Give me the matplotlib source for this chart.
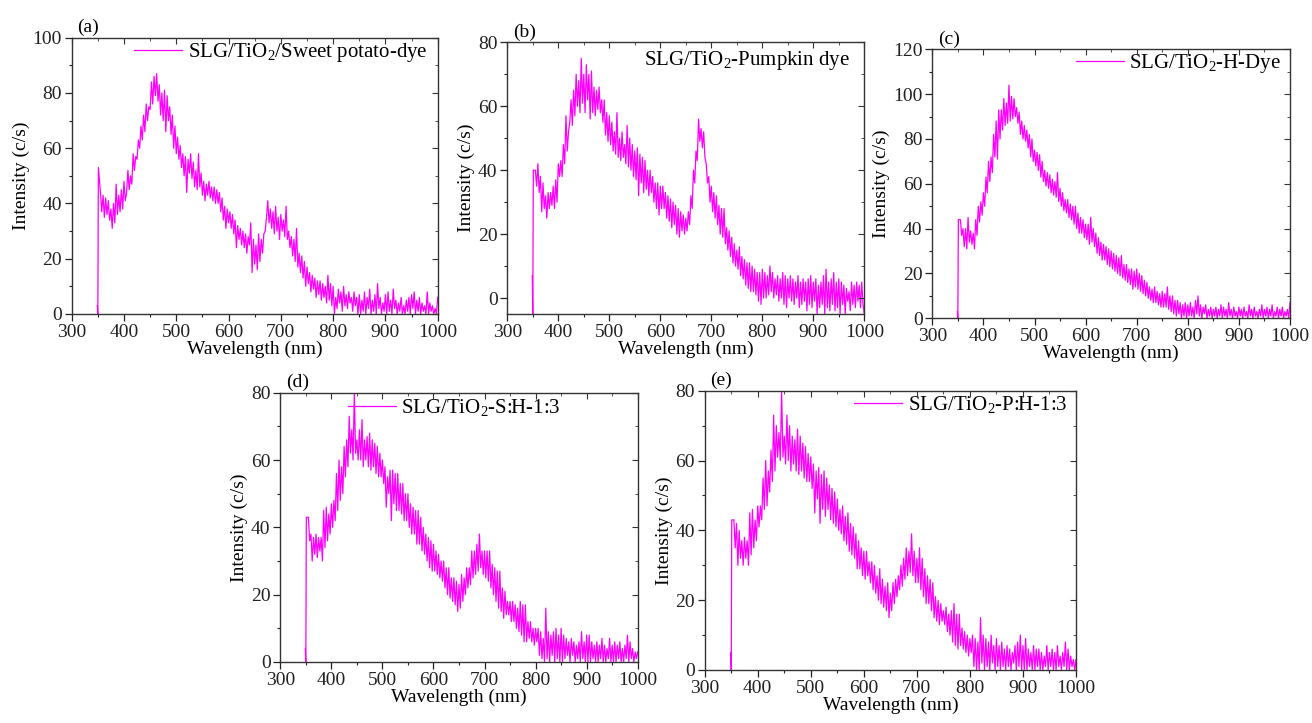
import numpy as np
import matplotlib
matplotlib.use("Agg")
import matplotlib.pyplot as plt
from matplotlib.ticker import MultipleLocator, NullFormatter

plt.rcParams['font.family'] = ['Liberation Serif', 'DejaVu Serif']
plt.rcParams['mathtext.fontset'] = 'custom'
plt.rcParams['mathtext.rm'] = 'Liberation Serif'
plt.rcParams['mathtext.it'] = 'Liberation Serif:italic'

# wavelength grid (nm): short lead-in before the jump, then 2.5 nm steps
wl_start = [349, 350, 351]
wl = list(np.arange(355, 1000.1, 2.5))

# (a) SLG/TiO2/Sweet potato-dye
a_start = [3, 0, 53]
a_vals = [44, 37, 43, 35, 42, 36, 41, 34, 38, 31, 40, 33, 47, 36, 43, 37, 45, 38, 48, 41,
          44, 52, 45, 50, 47, 58, 52, 57, 56, 63, 60, 68, 63, 72, 66, 76, 70, 75, 74, 84,
          76, 86, 79, 87, 77, 83, 72, 80, 70, 81, 66, 79, 70, 75, 65, 72, 60, 68, 58, 64,
          56, 61, 53, 58, 50, 57, 44, 56, 51, 58, 49, 55, 46, 52, 45, 58, 46, 51, 43, 48,
          41, 47, 43, 48, 42, 46, 41, 46, 40, 45, 40, 44, 37, 42, 34, 39, 31, 38, 33, 37,
          31, 36, 29, 34, 24, 32, 27, 31, 25, 30, 24, 29, 22, 28, 25, 33, 15, 27, 18, 25,
          16, 29, 19, 27, 22, 29, 30, 35, 41, 33, 38, 31, 37, 29, 39, 30, 35, 27, 36, 30,
          34, 28, 39, 27, 30, 24, 28, 21, 27, 19, 31, 17, 22, 15, 21, 13, 19, 10, 17, 11,
          15, 8, 14, 9, 13, 6, 12, 7, 12, 5, 11, 6, 10, 4, 14, 5, 11, 3, 10, 0,
          6, 2, 9, 4, 8, 1, 10, 3, 7, 2, 8, 4, 6, 1, 8, 3, 6, 0, 7, 0,
          5, 1, 8, 0, 6, 2, 9, 0, 5, 1, 7, 0, 11, 2, 6, 0, 4, 1, 7, 0,
          8, 1, 5, 0, 9, 2, 5, 0, 4, 1, 6, 0, 3, 0, 5, 1, 6, 0, 7, 2,
          8, 0, 5, 1, 6, 0, 4, 1, 3, 0, 8, 0, 4, 1, 3, 0, 2, 0, 6]

# (b) SLG/TiO2-Pumpkin dye
b_start = [7, -5, 40]
b_vals = [40, 35, 42, 33, 38, 27, 36, 28, 32, 25, 33, 28, 33, 29, 35, 28, 37, 30, 42, 38,
          43, 38, 48, 42, 57, 46, 52, 55, 62, 54, 65, 57, 70, 60, 68, 58, 75, 61, 70, 58,
          73, 62, 70, 56, 71, 58, 66, 57, 65, 59, 66, 58, 62, 55, 62, 51, 58, 49, 57, 48,
          55, 46, 52, 45, 58, 44, 50, 43, 52, 44, 48, 42, 54, 41, 50, 40, 48, 38, 46, 37,
          47, 32, 45, 36, 44, 33, 43, 34, 40, 32, 40, 33, 38, 30, 36, 28, 36, 26, 35, 28,
          35, 28, 33, 25, 32, 24, 31, 22, 30, 23, 29, 20, 28, 19, 27, 21, 26, 20, 25, 21,
          27, 23, 32, 28, 40, 36, 46, 43, 56, 49, 53, 47, 52, 44, 42, 36, 38, 30, 35, 27,
          33, 25, 32, 23, 29, 20, 28, 19, 28, 17, 22, 15, 21, 13, 19, 11, 17, 10, 15, 9,
          16, 7, 13, 6, 12, 4, 11, 3, 11, 2, 10, 2, 9, 1, 8, -1, 8, -2, 9, 0,
          8, 0, 7, 1, 10, 2, 8, 0, 6, 1, 7, -1, 6, 0, 8, -2, 7, -3, 6, 0,
          7, -1, 6, -2, 5, 0, 7, -3, 5, -2, 6, -1, 5, -4, 6, -2, 7, -3, 5, -1,
          6, -5, 4, -3, 5, -2, 7, -5, 9, -3, 5, -4, 6, -2, 8, -4, 5, -3, 6, -5,
          5, -2, 4, -5, 3, -1, 2, -4, 5, -2, 4, -3, 5, -1, 4, -3, 5, -2, -5]

# (c) SLG/TiO2-H-Dye
c_start = [3, 0, 44]
c_vals = [44, 37, 40, 32, 40, 31, 45, 34, 39, 33, 38, 31, 44, 37, 50, 43, 52, 46, 56, 50,
          63, 56, 70, 61, 72, 65, 82, 72, 88, 71, 93, 80, 93, 84, 98, 86, 96, 87, 104, 88,
          99, 89, 98, 90, 94, 87, 92, 82, 88, 80, 86, 79, 84, 76, 82, 72, 80, 70, 75, 68,
          74, 66, 73, 63, 70, 61, 66, 59, 65, 58, 64, 56, 62, 55, 61, 54, 65, 52, 58, 50,
          56, 48, 53, 47, 53, 45, 51, 44, 50, 42, 50, 40, 47, 38, 45, 38, 44, 36, 42, 35,
          42, 33, 45, 34, 40, 32, 38, 29, 36, 28, 34, 26, 33, 26, 32, 24, 31, 23, 30, 22,
          29, 21, 28, 20, 27, 19, 28, 18, 24, 17, 24, 16, 22, 15, 22, 13, 21, 14, 22, 13,
          20, 12, 19, 11, 17, 10, 16, 9, 14, 8, 13, 7, 14, 7, 12, 6, 11, 5, 12, 5,
          11, 5, 14, 4, 10, 3, 10, 2, 8, 1, 8, 2, 7, 0, 6, 1, 7, 0, 6, 1,
          7, 1, 5, 0, 8, 2, 10, 1, 6, 0, 5, 2, 6, 0, 4, 1, 5, 0, 4, 1,
          5, 0, 4, 1, 6, 0, 5, 1, 4, 0, 7, 1, 4, 0, 5, 1, 3, 0, 5, 1,
          4, 0, 5, 1, 3, 0, 6, 1, 4, 0, 5, 1, 3, 0, 4, 1, 6, 0, 4, 1,
          5, 0, 4, 1, 6, 0, 3, 1, 5, 0, 4, 1, 5, 0, 3, 1, 4, 0, 7]

# (d) SLG/TiO2-S:H-1:3
d_start = [4, 0, 43]
d_vals = [43, 36, 38, 30, 37, 32, 38, 31, 37, 33, 37, 30, 45, 34, 46, 36, 44, 38, 47, 40,
          48, 42, 56, 45, 60, 48, 58, 50, 64, 55, 66, 58, 73, 62, 69, 60, 80, 62, 66, 60,
          69, 60, 72, 58, 66, 60, 67, 58, 68, 57, 66, 58, 65, 56, 64, 55, 62, 55, 60, 53,
          58, 46, 55, 50, 57, 42, 57, 47, 56, 45, 56, 45, 53, 44, 53, 42, 50, 42, 50, 40,
          47, 38, 46, 38, 45, 35, 45, 35, 43, 33, 40, 32, 38, 30, 37, 28, 36, 27, 35, 27,
          33, 26, 32, 25, 30, 24, 30, 22, 28, 20, 28, 19, 25, 18, 25, 17, 24, 15, 23, 16,
          26, 18, 25, 20, 28, 22, 28, 23, 33, 25, 33, 26, 35, 27, 38, 28, 33, 26, 33, 25,
          33, 24, 33, 22, 29, 20, 28, 18, 27, 16, 27, 15, 22, 13, 21, 14, 18, 14, 18, 12,
          18, 12, 17, 10, 16, 9, 18, 8, 17, 6, 17, 6, 12, 7, 12, 6, 10, 5, 10, 6,
          10, 2, 9, 1, 7, 0, 16, 1, 9, 0, 8, 2, 9, 0, 10, 1, 8, 0, 10, 0,
          8, 1, 7, 2, 6, 0, 7, 2, 6, 0, 5, 1, 6, 0, 9, 1, 6, 0, 8, 0,
          8, 0, 6, 1, 5, 0, 6, 0, 5, 1, 7, 0, 5, 0, 4, 1, 7, 0, 5, 0,
          6, 0, 5, 1, 6, 0, 4, 0, 5, 1, 8, 0, 6, 1, 4, 0, 3, 1, 3]

# (e) SLG/TiO2-P:H-1:3
e_start = [5, 0, 43]
e_vals = [43, 35, 42, 30, 40, 32, 37, 30, 38, 32, 37, 30, 45, 33, 46, 35, 43, 37, 47, 41,
          47, 43, 55, 46, 60, 47, 57, 51, 63, 54, 73, 57, 70, 61, 68, 60, 80, 61, 67, 59,
          73, 60, 70, 57, 67, 59, 66, 57, 69, 56, 67, 57, 65, 55, 64, 54, 62, 54, 61, 52,
          59, 45, 57, 49, 58, 42, 56, 46, 57, 44, 55, 46, 53, 43, 52, 42, 51, 41, 49, 40,
          46, 39, 47, 37, 44, 36, 45, 34, 42, 33, 41, 32, 39, 29, 37, 29, 35, 27, 34, 26,
          34, 27, 31, 25, 31, 23, 30, 22, 27, 20, 29, 19, 26, 18, 24, 17, 25, 15, 22, 17,
          25, 19, 26, 21, 27, 23, 30, 24, 32, 26, 35, 27, 34, 28, 39, 27, 34, 25, 32, 25,
          35, 23, 32, 21, 29, 19, 27, 19, 26, 17, 25, 15, 21, 14, 20, 13, 19, 14, 17, 13,
          18, 11, 16, 10, 17, 8, 19, 7, 16, 6, 16, 7, 12, 6, 11, 5, 10, 4, 9, 5,
          10, 1, 9, 0, 8, 0, 15, 2, 10, 0, 9, 1, 8, 0, 10, 2, 7, 0, 9, 1,
          7, 0, 8, 1, 6, 0, 7, 1, 6, 0, 5, 2, 7, 0, 8, 1, 10, 0, 7, 0,
          9, 0, 6, 1, 5, 0, 7, 0, 6, 1, 6, 0, 5, 0, 4, 1, 7, 0, 5, 1,
          6, 0, 5, 0, 7, 1, 4, 0, 5, 1, 8, 0, 6, 0, 4, 1, 3, 0, 3]

labels = ['SLG/TiO$_2$/Sweet potato-dye', 'SLG/TiO$_2$-Pumpkin dye',
          'SLG/TiO$_2$-H-Dye', 'SLG/TiO$_2$-S:H-1:3', 'SLG/TiO$_2$-P:H-1:3']
tags = ['(a)', '(b)', '(c)', '(d)', '(e)']
starts = [a_start, b_start, c_start, d_start, e_start]
series = [a_vals, b_vals, c_vals, d_vals, e_vals]

W, H = 1312, 723
# axes boxes in pixels: left, right, top, bottom
boxes = [(71.7, 437.7, 37.7, 314), (507.3, 864.3, 42.3, 314),
         (932.3, 1290, 49.3, 318.3), (280.3, 637.7, 392.7, 662),
         (704.7, 1076, 390.7, 670)]
ylims = [(0, 100), (-5, 80), (0, 120), (0, 80), (0, 80)]
leg_anchor = [(0.971, 0.988), (0.960, 0.975), (0.975, 0.990),
              (0.785, 0.984), (0.976, 0.988)]

fig = plt.figure(figsize=(W / 100, H / 100), dpi=100)
for i in range(5):
    l, r, t, b = boxes[i]
    ax = fig.add_axes([l / W, (H - b) / H, (r - l) / W, (b - t) / H])
    x = wl_start + wl
    y = starts[i] + series[i]
    n = min(len(x), len(y))
    ax.plot(x[:n], y[:n], color='#ff00ff', lw=0.9, label=labels[i])
    ax.set_xlim(300, 1000)
    ax.set_ylim(*ylims[i])
    ax.xaxis.set_major_locator(MultipleLocator(100))
    ax.xaxis.set_minor_locator(MultipleLocator(50))
    ax.yaxis.set_major_locator(MultipleLocator(20))
    ax.yaxis.set_minor_locator(MultipleLocator(10))
    ax.tick_params(which='both', direction='out', labelsize=14, colors='#222222',
                   top=False, right=False, pad=2)
    ax.tick_params(which='major', length=5, width=0.9)
    ax.tick_params(which='minor', length=2.5, width=0.8)
    for s in ax.spines.values():
        s.set_color('#333333')
        s.set_linewidth(1.0)

    # inward ticks on top and right, without labels
    axt = ax.twiny()
    axt.set_xlim(ax.get_xlim())
    axt.xaxis.set_major_locator(MultipleLocator(100))
    axt.xaxis.set_minor_locator(MultipleLocator(50))
    axt.xaxis.set_major_formatter(NullFormatter())
    axt.tick_params(which='both', direction='in', colors='#333333')
    axt.tick_params(which='major', length=4)
    axt.tick_params(which='minor', length=2)
    axr = ax.twinx()
    axr.set_ylim(ax.get_ylim())
    axr.yaxis.set_major_locator(MultipleLocator(20))
    axr.yaxis.set_minor_locator(MultipleLocator(10))
    axr.yaxis.set_major_formatter(NullFormatter())
    axr.tick_params(which='both', direction='in', colors='#333333')
    axr.tick_params(which='major', length=4)
    axr.tick_params(which='minor', length=2)
    for a2 in (axt, axr):
        for s in a2.spines.values():
            s.set_visible(False)

    ax.set_xlabel('Wavelength (nm)', fontsize=14, labelpad=0)
    ax.set_ylabel('Intensity (c/s)', fontsize=14, labelpad=2)
    ax.text(0.015, 1.005, tags[i], transform=ax.transAxes, fontsize=14,
            ha='left', va='bottom')
    if i == 1:
        ax.legend(loc='upper right', bbox_to_anchor=leg_anchor[i], frameon=False,
                  fontsize=15, handlelength=0, handletextpad=0,
                  borderpad=0, borderaxespad=0)
    else:
        ax.legend(loc='upper right', bbox_to_anchor=leg_anchor[i], frameon=False,
                  fontsize=15, handlelength=2.3, handletextpad=0.25,
                  borderpad=0, borderaxespad=0)

print([len(s) for s in series], len(wl))
fig.savefig('out.png', dpi=100)
